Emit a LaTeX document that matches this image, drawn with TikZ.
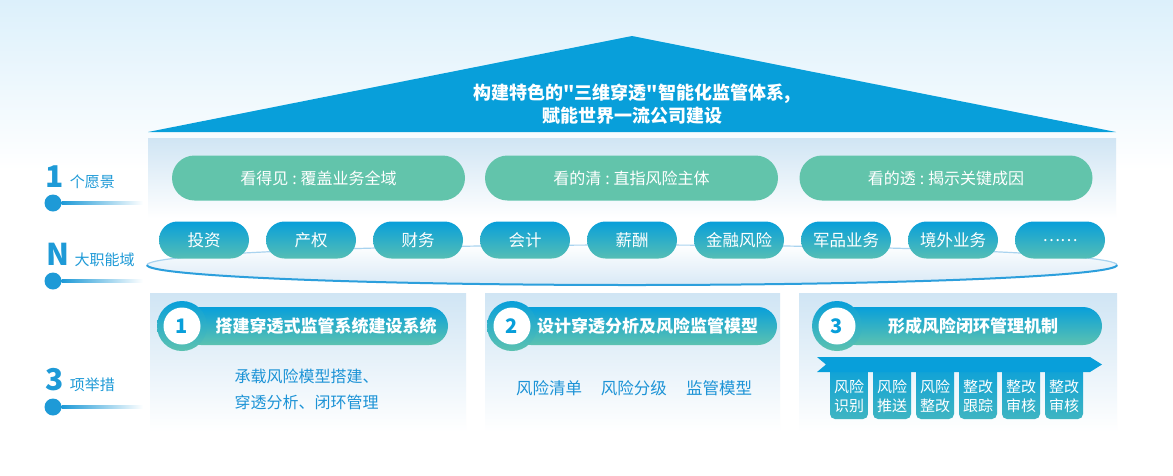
\documentclass[tikz,border=0pt]{standalone}
\usepackage{fontspec}
\setmainfont{Noto Sans CJK SC}
\newfontfamily\quotefont{Noto Sans CJK SC}
\usetikzlibrary{positioning}
\definecolor{roofblue}{HTML}{089FDA}
\definecolor{topsky}{HTML}{DCF0FB}
\definecolor{panelsky}{HTML}{D0E5F4}
\definecolor{pillgreen}{HTML}{62C4AB}
\definecolor{barteal}{HTML}{5CC2B0}
\definecolor{pillteal}{HTML}{55BEB4}
\definecolor{boxteal}{HTML}{3FB5C2}
\definecolor{labelblue}{HTML}{1E9AD7}
\definecolor{bodyblue}{HTML}{1C93D6}
\definecolor{ringdark}{HTML}{2C9FDC}
\definecolor{ringlight}{HTML}{A9D3EF}
\definecolor{bowlsky}{HTML}{D8E9F6}
\newcommand{\fsz}[1]{\fontsize{#1}{#1}\selectfont}
\newcommand{\qt}{{\quotefont"}}
\newcommand{\cln}{\hspace{4pt}:\hspace{4pt}}
\tikzset{
  visionpill/.style={fill=pillgreen, text=white, rounded corners=22.5pt,
    minimum width=293pt, minimum height=45pt, inner sep=0pt, font=\fsz{16}},
  dompill/.style={top color=roofblue, bottom color=pillteal, text=white,
    rounded corners=18.5pt, minimum width=90pt, minimum height=37pt,
    inner sep=0pt, font=\fsz{16.5}},
  numring/.style={circle, top color=roofblue, bottom color=barteal,
    minimum size=50pt, inner sep=0pt},
  numdisc/.style={circle, fill=white, minimum size=37pt, inner sep=0pt,
    text=roofblue, font=\bfseries\fsz{20}},
  bartext/.style={text=white, font=\bfseries\fsz{17}},
  bodytext/.style={text=bodyblue, font=\fsz{16}},
  steptext/.style={text=white, align=center, inner sep=0pt,
    font=\fontsize{15}{19}\selectfont},
  bignum/.style={text=labelblue, font=\bfseries\fsz{30}, inner sep=0pt, anchor=base west},
  sidetext/.style={text=labelblue, font=\fsz{15}, inner sep=0pt},
  sidedot/.style={circle, fill=labelblue, minimum size=17pt, inner sep=0pt},
}

\begin{document}
\begin{tikzpicture}[x=1pt, y=-1pt]
\useasboundingbox (0,0) rectangle (1173,475);
\fill[white] (0,0) rectangle (1173,475);
\shade[top color=topsky, bottom color=white] (0,0) rectangle (1173,170);

% roof
\fill[roofblue] (148,132) -- (632,36) -- (1116,132) -- cycle;
\node[text=white, align=center, font=\bfseries\fontsize{18}{23}\selectfont] (title) at (632,104)
  {构建特色的\qt 三维穿透\qt 智能化监管体系,\\赋能世界一流公司建设};

% vision band
\shade[top color=panelsky, bottom color=white] (148,138) rectangle (1116,218);
\node[visionpill] (see) at (318.5,178) {看得见\cln 覆盖业务全域};
\node[visionpill] (clear) at (631.5,178) {看的清\cln 直指风险主体};
\node[visionpill] (through) at (946,178) {看的透\cln 揭示关键成因};

% domain ellipse
\shade[top color=white, bottom color=bowlsky] (632,265) ellipse[x radius=485, y radius=20];
\draw[ringlight, line width=1.2pt] (147,265) arc[start angle=180, end angle=360, x radius=485, y radius=20];
\draw[ringdark, line width=2pt] (1117,265) arc[start angle=0, end angle=180, x radius=485, y radius=20];
\foreach \lbl [count=\i from 0] in {投资,产权,财务,会计,薪酬,金融风险,军品业务,境外业务,\raisebox{-3pt}{……}}
  \node[dompill] (dom\i) at (204+107*\i,240) {\lbl};

% measure panels
\shade[top color=panelsky, bottom color=white] (150,293) rectangle (466,432);
\shade[top color=panelsky, bottom color=white] (485,293) rectangle (780,432);
\shade[top color=panelsky, bottom color=white] (799,293) rectangle (1117,432);

\shade[top color=roofblue, bottom color=barteal, rounded corners=19pt] (182,307) rectangle (448,345);
\node[numring] (ring1) at (182,326) {};
\node[numdisc] (num1) at (ring1) {1};
\node[bartext] (head1) at (326,326) {搭建穿透式监管系统建设系统};
\node[bodytext, font=\fontsize{16}{26}\selectfont, align=left] (body1) at (306.5,389)
  {承载风险模型搭建、\\穿透分析、闭环管理};

\shade[top color=roofblue, bottom color=barteal, rounded corners=19pt] (512,307) rectangle (777,345);
\node[numring] (ring2) at (512,326) {};
\node[numdisc] (num2) at (ring2) {2};
\node[bartext] (head2) at (647.5,326) {设计穿透分析及风险监管模型};
\node[bodytext, font=\fsz{16.5}] (body2) at (634,388)
  {风险清单\hspace{19pt}风险分级\hspace{19pt}监管模型};

\shade[top color=roofblue, bottom color=barteal, rounded corners=19pt] (837,307) rectangle (1102,345);
\node[numring] (ring3) at (837,326) {};
\node[numdisc] (num3) at (ring3) {3};
\node[bartext] (head3) at (973,326) {形成风险闭环管理机制};
\foreach \a/\b [count=\i from 0] in {风险/识别,风险/推送,风险/整改,整改/跟踪,整改/审核,整改/审核} {
  \shade[top color=roofblue, bottom color=boxteal, rounded corners=5pt] (830+43*\i,362) rectangle ++(38,57);
  \node[steptext] (step\i) at (849+43*\i,396) {\a\\\b};
}
\fill[roofblue] (817,357) -- (1090,357) -- (1102,364.5) -- (1090,372) -- (817,372) -- (826,364.5) -- cycle;

% side labels
\node[bignum] (n1) at (45,187) {1};
\node[sidetext, right=6pt of n1.base east, anchor=base west] (t1) {个愿景};
\node[sidedot] (d1) at (53,203) {};
\coordinate (e1) at (143,203);
\shade[left color=labelblue, right color=white] ([yshift=1.75pt]d1.east) rectangle ([yshift=-1.75pt]e1);

\node[bignum] (n2) at (46,265) {N};
\node[sidetext, right=5pt of n2.base east, anchor=base west] (t2) {大职能域};
\node[sidedot] (d2) at (53,281) {};
\coordinate (e2) at (143,281);
\shade[left color=labelblue, right color=white] ([yshift=1.75pt]d2.east) rectangle ([yshift=-1.75pt]e2);

\node[bignum] (n3) at (45,390) {3};
\node[sidetext, right=6pt of n3.base east, anchor=base west] (t3) {项举措};
\node[sidedot] (d3) at (53,407) {};
\coordinate (e3) at (143,407);
\shade[left color=labelblue, right color=white] ([yshift=1.75pt]d3.east) rectangle ([yshift=-1.75pt]e3);
\end{tikzpicture}
\end{document}
